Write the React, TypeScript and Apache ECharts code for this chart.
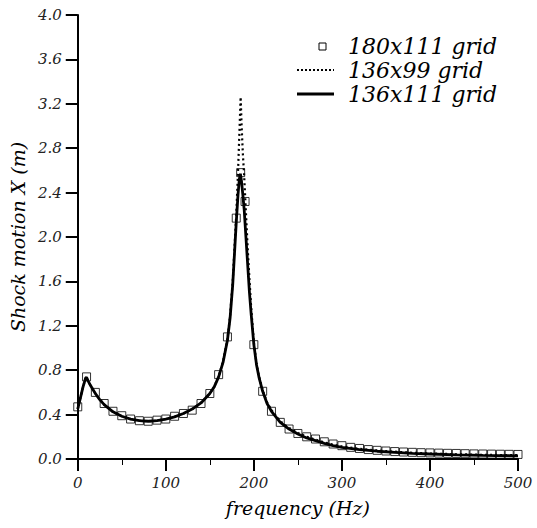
import React, { useEffect, useRef } from "react";
import * as echarts from "echarts";

const FONT = "'DejaVu Serif', 'Liberation Serif', serif";

// 180x111 grid (squares)
const sqFreq = [0, 10, 20, 30, 40, 50, 60, 70, 80, 90, 100, 110, 120, 130, 140, 150, 160, 170, 180, 185, 190, 200, 210, 220, 230, 240, 250, 260, 270, 280, 290, 300, 310, 320, 330, 340, 350, 360, 370, 380, 390, 400, 410, 420, 430, 440, 450, 460, 470, 480, 490, 500];
const sqVal = [0.47, 0.74, 0.6, 0.5, 0.43, 0.39, 0.36, 0.345, 0.34, 0.35, 0.36, 0.385, 0.41, 0.44, 0.5, 0.59, 0.76, 1.1, 2.17, 2.58, 2.32, 1.03, 0.61, 0.43, 0.33, 0.27, 0.23, 0.2, 0.18, 0.155, 0.135, 0.12, 0.105, 0.095, 0.085, 0.078, 0.072, 0.067, 0.063, 0.06, 0.057, 0.055, 0.053, 0.051, 0.05, 0.048, 0.046, 0.045, 0.044, 0.043, 0.042, 0.041];

// 136x111 grid (solid)
const solidFreq = [0, 3, 6, 9, 10, 12, 15, 20, 25, 30, 40, 50, 60, 70, 80, 90, 100, 110, 120, 130, 140, 150, 155, 160, 165, 170, 173, 176, 178, 180, 182, 183.5, 184.7, 186, 187.5, 189, 191, 193, 195, 197, 200, 203, 206, 210, 215, 220, 230, 240, 250, 260, 270, 280, 290, 300, 320, 340, 360, 380, 400, 430, 460, 500];
const solidVal = [0.45, 0.55, 0.65, 0.73, 0.735, 0.7, 0.655, 0.59, 0.535, 0.49, 0.425, 0.385, 0.36, 0.345, 0.34, 0.345, 0.36, 0.38, 0.41, 0.45, 0.505, 0.59, 0.65, 0.74, 0.87, 1.07, 1.27, 1.57, 1.85, 2.13, 2.38, 2.52, 2.57, 2.5, 2.38, 2.25, 2.0, 1.75, 1.5, 1.3, 1.03, 0.85, 0.73, 0.61, 0.5, 0.43, 0.33, 0.27, 0.225, 0.19, 0.165, 0.14, 0.12, 0.105, 0.085, 0.07, 0.06, 0.05, 0.045, 0.038, 0.033, 0.028];

// 136x99 grid (dotted)
const dotFreq = [0, 3, 6, 9, 10, 12, 15, 20, 25, 30, 40, 50, 60, 70, 80, 90, 100, 110, 120, 130, 140, 150, 155, 160, 165, 170, 173, 176, 178, 180, 182, 183.5, 185, 186, 187.5, 189, 191, 193, 195, 197, 200, 203, 206, 210, 215, 220, 230, 240, 250, 260, 270, 280, 290, 300, 320, 340, 360, 380, 400, 430, 460, 500];
const dotVal = [0.45, 0.55, 0.65, 0.73, 0.735, 0.7, 0.655, 0.59, 0.535, 0.49, 0.425, 0.385, 0.36, 0.345, 0.34, 0.345, 0.36, 0.38, 0.41, 0.45, 0.505, 0.59, 0.65, 0.745, 0.88, 1.08, 1.29, 1.6, 1.9, 2.2, 2.58, 2.92, 3.26, 3.02, 2.75, 2.55, 2.22, 1.9, 1.62, 1.36, 1.05, 0.86, 0.74, 0.62, 0.51, 0.44, 0.34, 0.28, 0.235, 0.2, 0.175, 0.15, 0.13, 0.113, 0.092, 0.077, 0.066, 0.056, 0.05, 0.043, 0.038, 0.034];

const yTicks = [0, 0.4, 0.8, 1.2, 1.6, 2.0, 2.4, 2.8, 3.2, 3.6, 4.0];
const xTicks = [0, 100, 200, 300, 400, 500];

const legendNames = ["180x111 grid", "136x99 grid", "136x111 grid"];

const pairs = (xs: number[], ys: number[]) => xs.map((x, i) => [x, ys[i]]);

export default function App() {
  const ref = useRef<HTMLDivElement>(null);
  useEffect(() => {
    if (!ref.current) return;
    const chart = echarts.init(ref.current, undefined, { renderer: "svg" });
    const axisText = { fontFamily: FONT, fontStyle: "italic" as const, color: "#222" };
    const legendText = { fontFamily: FONT, fontStyle: "italic" as const, fontSize: 22, fill: "#000", verticalAlign: "middle" as const };
    chart.setOption({
      animation: false,
      backgroundColor: "#fff",
      grid: { left: 76, right: 19, top: 15, bottom: 69, containLabel: false },
      xAxis: {
        type: "value",
        min: xTicks[0],
        max: xTicks[xTicks.length - 1],
        interval: 100,
        name: "frequency (Hz)",
        nameLocation: "middle",
        nameGap: 39,
        nameTextStyle: { ...axisText, fontSize: 19, color: "#000" },
        axisLine: { onZero: false, lineStyle: { color: "#000", width: 2 } },
        axisTick: { show: true, length: 12, lineStyle: { color: "#000", width: 2 } },
        minorTick: { show: true, splitNumber: 2, length: 6, lineStyle: { color: "#000", width: 1 } },
        splitLine: { show: false },
        axisLabel: { ...axisText, fontSize: 15, margin: 16 },
      },
      yAxis: {
        type: "value",
        min: yTicks[0],
        max: yTicks[yTicks.length - 1],
        interval: 0.4,
        name: "Shock motion X (m)",
        nameLocation: "middle",
        nameGap: 50,
        nameTextStyle: { ...axisText, fontSize: 19, color: "#000" },
        axisLine: { onZero: false, lineStyle: { color: "#000", width: 2 } },
        axisTick: { show: true, length: 12, lineStyle: { color: "#000", width: 2 } },
        splitLine: { show: false },
        axisLabel: { ...axisText, fontSize: 15, margin: 16, formatter: (v: number) => v.toFixed(1) },
      },
      series: [
        {
          name: legendNames[0],
          type: "scatter",
          symbol: "rect",
          symbolSize: 8,
          data: pairs(sqFreq, sqVal),
          itemStyle: { color: "rgba(255,255,255,0)", borderColor: "#000", borderWidth: 1 },
          z: 2,
        },
        {
          name: legendNames[1],
          type: "line",
          showSymbol: false,
          data: pairs(dotFreq, dotVal),
          lineStyle: { color: "#000", width: 2.2, type: [2, 3] },
          z: 3,
        },
        {
          name: legendNames[2],
          type: "line",
          showSymbol: false,
          data: pairs(solidFreq, solidVal),
          lineStyle: { color: "#000", width: 2.8 },
          z: 4,
        },
      ],
      graphic: [
        { type: "rect", shape: { x: 319, y: 43, width: 7, height: 7 }, style: { fill: "#fff", stroke: "#000", lineWidth: 1 } },
        { type: "line", shape: { x1: 297, y1: 70, x2: 334, y2: 70 }, style: { stroke: "#000", lineWidth: 2, lineDash: [2, 2] } },
        { type: "line", shape: { x1: 297, y1: 94, x2: 334, y2: 94 }, style: { stroke: "#000", lineWidth: 2.8 } },
        { type: "text", x: 348, y: 46, style: { text: legendNames[0], ...legendText } },
        { type: "text", x: 348, y: 70, style: { text: legendNames[1], ...legendText } },
        { type: "text", x: 348, y: 94, style: { text: legendNames[2], ...legendText } },
      ],
    });
    return () => chart.dispose();
  }, []);
  return <div ref={ref} style={{ width: 537, height: 528, position: "absolute", left: 0, top: 0 }} />;
}
